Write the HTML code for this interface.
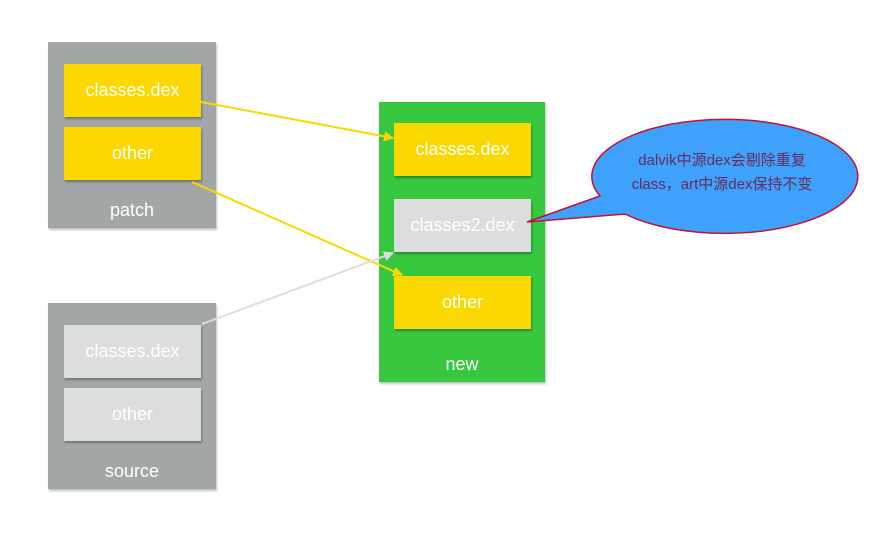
<!DOCTYPE html>
<html><head><meta charset="utf-8"><style>
body{margin:0;width:875px;height:533px;background:#fff;position:relative;overflow:hidden;font-family:"Liberation Sans","Noto Sans CJK SC",sans-serif}
.c{position:absolute;background:#a3a6a6;box-shadow:1px 2px 2px rgba(0,0,0,.25)}
.b{position:absolute;width:137px;height:53px;line-height:53px;text-align:center;color:#fff;font-size:18px;box-shadow:1px 2px 2px rgba(0,0,0,.3)}
.y{background:#fad800}.g{background:#dcdddd}
.l{position:absolute;color:#fff;font-size:18px;text-align:center}
</style></head><body>
<div class="c" style="left:48px;top:42px;width:168px;height:186px"></div>
<div class="b y" style="left:64px;top:64px">classes.dex</div>
<div class="b y" style="left:64px;top:127px">other</div>
<div class="l" style="left:48px;top:200px;width:168px">patch</div>
<div class="c" style="left:48px;top:303px;width:168px;height:186px"></div>
<div class="b g" style="left:64px;top:325px">classes.dex</div>
<div class="b g" style="left:64px;top:388px">other</div>
<div class="l" style="left:48px;top:461px;width:168px">source</div>
<div class="c" style="left:379px;top:102px;width:166px;height:280px;background:#37c840"></div>
<div class="b y" style="left:394px;top:123px">classes.dex</div>
<div class="b g" style="left:394px;top:199px">classes2.dex</div>
<div class="b y" style="left:394px;top:276px">other</div>
<div class="l" style="left:379px;top:354px;width:166px">new</div>
<svg width="875" height="533" style="position:absolute;left:0;top:0">
<defs>
<marker id="ay" markerWidth="10" markerHeight="10" refX="9" refY="5" orient="auto" markerUnits="userSpaceOnUse"><path d="M0,0L10,5L0,10z" fill="#fad800"/></marker>
<marker id="ag" markerWidth="10" markerHeight="10" refX="9" refY="5" orient="auto" markerUnits="userSpaceOnUse"><path d="M0,0L10,5L0,10z" fill="#dcdddd"/></marker>
</defs>
<line x1="201" y1="102" x2="393" y2="138" stroke="#fad800" stroke-width="2" marker-end="url(#ay)"/>
<line x1="192" y1="182" x2="402" y2="275" stroke="#fad800" stroke-width="2" marker-end="url(#ay)"/>
<line x1="202" y1="324" x2="393" y2="253" stroke="#dcdddd" stroke-width="2" marker-end="url(#ag)"/>
<path d="M527,222 L600,196 A133,57 0 1 1 625,214 Z" fill="#3ea1fb" stroke="#c8102e" stroke-width="1.5"/>
<text x="722" y="165" text-anchor="middle" font-size="15" fill="#6a2a5a" font-family="Liberation Sans,Noto Sans CJK SC,sans-serif">dalvik中源dex会剔除重复</text>
<text x="722" y="189" text-anchor="middle" font-size="15" fill="#6a2a5a" font-family="Liberation Sans,Noto Sans CJK SC,sans-serif">class，art中源dex保持不变</text>
</svg>
</body></html>
